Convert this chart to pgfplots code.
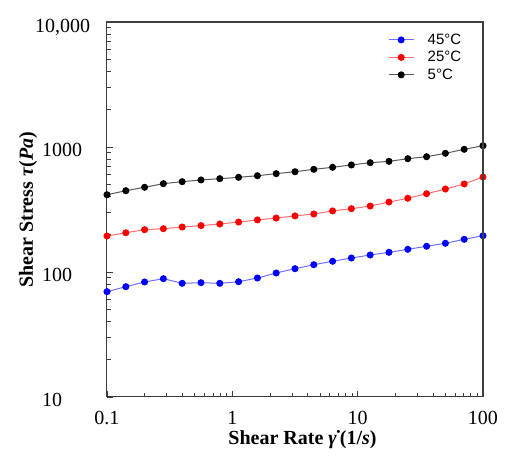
\documentclass[border=0pt]{standalone}
\usepackage{pgfplots}
\pgfplotsset{compat=1.18}
\usepackage{fontspec}
\setmainfont{Liberation Serif}
\newfontfamily\legfont{Liberation Sans}
\definecolor{sblue}{RGB}{0,0,255}
\definecolor{sred}{RGB}{255,0,0}
\definecolor{lblue}{RGB}{110,110,255}
\definecolor{lred}{RGB}{255,110,110}
\definecolor{lgray}{RGB}{90,90,90}
\definecolor{axgray}{RGB}{60,60,60}
\begin{document}
\begin{tikzpicture}
\useasboundingbox (0,0) rectangle (515pt,463pt);
\begin{axis}[
  at={(107pt,66pt)}, anchor=south west,
  scale only axis, width=376pt, height=375pt,
  xmode=log, ymode=log,
  xmin=0.1, xmax=100, ymin=10, ymax=10000,
  xtick={0.1,1,10,100}, xticklabels={0.1,1,10,100},
  minor xtick={0.2,0.3,0.4,0.5,0.6,0.7,0.8,0.9,2,3,4,5,6,7,8,9,20,30,40,50,60,70,80,90},
  ytick={10,100,1000,10000}, yticklabels={10,100,1000,{\kern-7pt 10,000}},
  minor ytick={20,30,40,50,60,70,80,90,200,300,400,500,600,700,800,900,2000,3000,4000,5000,6000,7000,8000,9000},
  tick pos=left, tick align=inside,
  major tick length=6pt, minor tick length=4pt,
  every tick/.style={axgray, line width=0.8pt},
  axis line style={axgray, line width=1pt},
  xticklabel style={font=\fontsize{20}{24}\selectfont, anchor=base, inner sep=0pt, yshift=-28pt},
  yticklabel style={font=\fontsize{20}{24}\selectfont, anchor=base west, inner sep=0pt, xshift=-65pt, yshift=-10pt},
  xlabel={\textbf{Shear Rate \textit{\.{γ}}(1/\textit{s})}},
  ylabel={\textbf{Shear Stress \textit{τ}(\textit{Pa})}},
  x label style={font=\fontsize{20}{24}\selectfont, at={(axis description cs:0.52,0)}, anchor=base, inner sep=0pt, yshift=-48pt},
  y label style={font=\fontsize{20}{24}\selectfont, at={(axis description cs:-0.197,0.5)}, anchor=base, rotate=0, inner sep=0pt},
  legend style={draw=none, fill=none, at={(axis description cs:0.742,0.978)}, anchor=north west,
    font=\legfont\fontsize{15}{17.5}\selectfont, row sep=2.5pt, column sep=12pt, inner sep=2pt,
    nodes={inner sep=1.5pt}},
  legend cell align=left,
  legend image code/.code={\draw[mark repeat=2,mark phase=2] plot coordinates {(0pt,0pt) (12.5pt,0pt) (25pt,0pt)};},
  every axis plot/.append style={line width=1pt, mark=*, mark size=3pt},
]
\addplot[lblue, mark options={sblue, fill=sblue}] coordinates {
(0.1,69.6) (0.1413,76.3) (0.1995,83.2) (0.2818,88.4) (0.3981,81.2) (0.5623,82.1) (0.7943,81.2)
(1.122,83.6) (1.585,89.5) (2.239,98.2) (3.162,106.3) (4.467,114.4) (6.310,121.8) (8.913,129.4)
(12.59,136.8) (17.78,143.7) (25.12,151.9) (35.48,160.6) (50.12,169.7) (70.79,182.6) (100,195.2)};
\addlegendentry{45°C}
\addplot[lred, mark options={sred, fill=sred}] coordinates {
(0.1,194) (0.1413,206) (0.1995,218) (0.2818,222) (0.3981,229) (0.5623,235) (0.7943,242)
(1.122,251) (1.585,261) (2.239,270) (3.162,281) (4.467,291) (6.310,308) (8.913,321)
(12.59,337) (17.78,363) (25.12,389) (35.48,423) (50.12,461) (70.79,506) (100,575)};
\addlegendentry{25°C}
\addplot[lgray, mark options={black, fill=black}] coordinates {
(0.1,415) (0.1413,447) (0.1995,476) (0.2818,509) (0.3981,528) (0.5623,545) (0.7943,558)
(1.122,572) (1.585,589) (2.239,612) (3.162,634) (4.467,663) (6.310,688) (8.913,718)
(12.59,749) (17.78,768) (25.12,806) (35.48,836) (50.12,890) (70.79,958) (100,1024)};
\addlegendentry{5°C}
\end{axis}
\draw[black!75, line width=2pt] (current axis.north west) -- (current axis.north east) -- (current axis.south east);
\end{tikzpicture}
\end{document}
